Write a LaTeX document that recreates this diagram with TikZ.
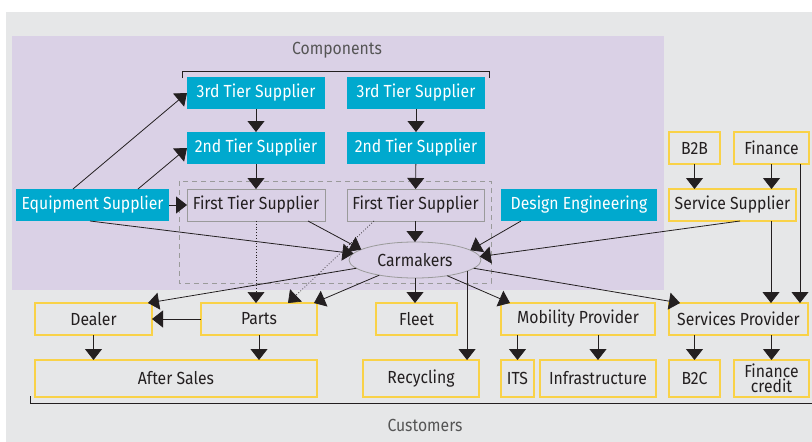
\documentclass[tikz,border=0pt]{standalone}
\usepackage{fontspec}
\setmainfont[FakeStretch=0.9]{Fira Sans}
\usetikzlibrary{arrows.meta,shapes.geometric,calc}
\definecolor{bggray}{HTML}{E6E7E8}
\definecolor{lilac}{HTML}{DAD1E6}
\definecolor{teal}{HTML}{00A9CE}
\definecolor{gold}{HTML}{F9D248}
\definecolor{ink}{HTML}{231F20}
\definecolor{rim}{HTML}{9A9A9A}
\definecolor{caption}{HTML}{555555}
\begin{document}
\begin{tikzpicture}[x=1pt,y=-1pt,
  font=\fontsize{17.5}{14}\selectfont,
  every node/.style={inner sep=0pt, outer sep=0pt, text=ink, align=center},
  cyanbox/.style={fill=teal, text=white, minimum height=32},
  tierbox/.style={draw=rim, line width=0.9pt, minimum height=32},
  goldbox/.style={draw=gold, line width=1.1pt, minimum height=32},
  goldtall/.style={draw=gold, line width=1.1pt, minimum height=37},
  arr/.style={draw=ink, line width=0.8pt, -{Triangle[width=17pt,length=11pt]}},
  dotarr/.style={arr, dotted, line width=0.7pt},
  lbl/.style={text=caption}]

\useasboundingbox (0,0) rectangle (812,442);
% backgrounds
\fill[bggray] (6,12) rectangle (812,442);
\fill[lilac] (12,36) rectangle (664,290);

% component suppliers
\node[cyanbox, minimum width=138] (t3l) at (256,93) {3rd Tier Supplier};
\node[cyanbox, minimum width=138] (t3r) at (416,93) {3rd Tier Supplier};
\node[cyanbox, minimum width=138] (t2l) at (256,148) {2nd Tier Supplier};
\node[cyanbox, minimum width=138] (t2r) at (416,148) {2nd Tier Supplier};
\node[cyanbox, minimum width=153] (eq) at (92.5,205) {Equipment Supplier};
\node[tierbox, minimum width=138] (f1l) at (256,205) {First Tier Supplier};
\node[tierbox, minimum width=137] (f1r) at (415.5,205) {First Tier Supplier};
\node[cyanbox, minimum width=156] (de) at (579,205) {Design Engineering};

% services side
\node[goldbox, minimum width=51] (b2b) at (694.5,148) {B2B};
\node[goldbox, minimum width=75] (fin) at (771.5,148) {Finance};
\node[goldbox, minimum width=127] (ss) at (732.5,205) {Service Supplier};

% carmakers
\draw[rim, line width=0.8pt, dash pattern=on 5pt off 4pt] (179,181) rectangle (491,283);
\node[ellipse, draw=rim, line width=0.8pt, minimum width=132, minimum height=36] (car) at (415,260) {Carmakers};

% customers
\node[goldbox, minimum width=117] (dealer) at (93.5,319) {Dealer};
\node[goldbox, minimum width=116] (parts) at (259,319) {Parts};
\node[goldbox, minimum width=81] (fleet) at (416.5,319) {Fleet};
\node[goldbox, minimum width=154] (mob) at (578,319) {Mobility Provider};
\node[goldbox, minimum width=139] (sp) at (738.5,319) {Services Provider};
\node[goldtall, minimum width=282] (after) at (176,378.5) {After Sales};
\node[goldtall, minimum width=116] (recyc) at (421,378.5) {Recycling};
\node[goldtall, minimum width=33] (its) at (517.5,378.5) {ITS};
\node[goldtall, minimum width=116] (infra) at (598,378.5) {Infrastructure};
\node[goldtall, minimum width=51] (b2c) at (694.5,378.5) {B2C};
\node[goldtall, minimum width=75, font=\fontsize{17.5}{14.8}\selectfont] (fc) at (771.5,378.5) {Finance\\credit};

% brackets and captions
\node[lbl] (comp) at (337,50) {Components};
\draw[ink, line width=0.8pt] (182,78) -- (182,71) -- (489,71) -- (489,78);
\node[lbl] (cust) at (425,425) {Customers};
\draw[ink, line width=0.8pt] (30,396) -- (30,403) -- (812,403);

% supply chain arrows
\draw[arr] (t3l) -- (t2l);
\draw[arr] (t3r) -- (t2r);
\draw[arr] (t2l) -- (f1l);
\draw[arr] (t2r) -- (f1r);
\draw[arr] ($(eq.north west)+(57,0)$) -- (t3l.west);
\draw[arr] ($(eq.north west)+(122,0)$) -- (t2l.west);
\draw[arr] (eq) -- (f1l);
\draw[arr] ($(eq.south west)+(74,0)$) -- (car.174);
\draw[arr] ($(f1l.south east)+(-17,0)$) -- (car.169);
\draw[arr] (f1r.south -| car.north) -- (car.north);
\draw[arr] ($(de.south west)+(20,0)$) -- (car.10);
\draw[arr] ($(ss.south west)+(71,0)$) -- (car.3);

% dotted parts flows
\draw[dotarr] (f1l.south) -- (f1l.south |- parts.north);
\coordinate (fra) at ($(f1r.south west)+(27,0)$);
\coordinate (pa) at ($(parts.north west)+(87,0)$);
\draw[dotarr] (fra) -- (pa);

% carmakers to customers
\draw[arr] (car.188) -- ($(dealer.north east)+(-4,0)$);
\draw[arr] (car.203) -- ($(parts.north east)+(-3,0)$);
\draw[arr] (car.south) -- (car.south |- fleet.north);
\draw[arr] (car.-12) -- (car.-12 |- recyc.north);
\draw[arr] (car.-26) -- ($(mob.north west)+(9,0)$);
\draw[arr] (car.-8) -- ($(sp.north west)+(11,0)$);

% service flows
\draw[arr] (b2b) -- (b2b |- ss.north);
\draw[arr] (fin) -- (fin |- ss.north);
\coordinate (ssx) at ($(ss.south west)+(102,0)$);
\draw[arr] (ssx) -- (ssx |- sp.north);
\coordinate (finr) at ($(fin.south east)+(-9,0)$);
\draw[arr] (finr) -- (finr |- sp.north);

% customer level flows
\draw[arr] (parts) -- (dealer);
\draw[arr] (dealer) -- (dealer |- after.north);
\draw[arr] (parts) -- (parts |- after.north);
\draw[arr] (mob.south -| its) -- (its);
\draw[arr] (mob.south -| infra) -- (infra);
\draw[arr] (sp.south -| b2c) -- (b2c);
\draw[arr] (sp.south -| fc) -- (fc);
\end{tikzpicture}
\end{document}
